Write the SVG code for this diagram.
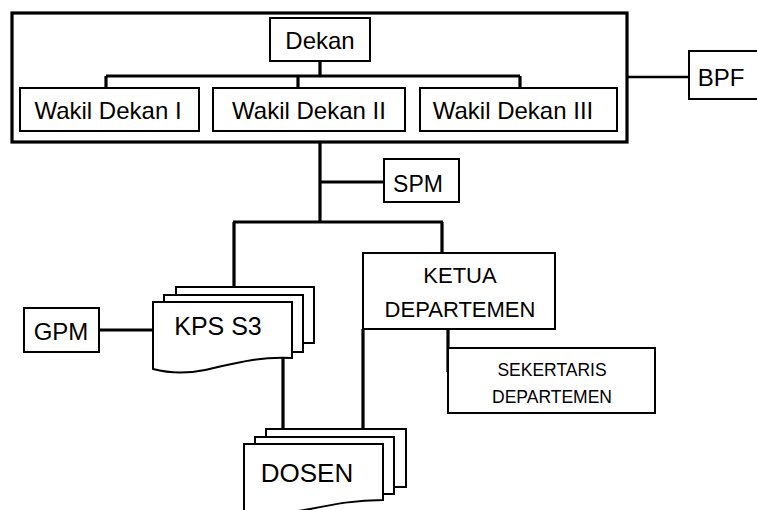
<svg xmlns="http://www.w3.org/2000/svg" width="757" height="510" viewBox="0 0 757 510">
<style>
.box{fill:#fff;stroke:#000;stroke-width:2}
.outer{fill:#fff;stroke:#000;stroke-width:3.2}
.c{stroke:#000;stroke-width:3.2;fill:none}
.ct{stroke:#000;stroke-width:2.5;fill:none}
text{font-family:"Liberation Sans",Arial,sans-serif;fill:#000;text-anchor:middle}
</style>
<rect width="757" height="510" fill="#fff"/>
<g id="fakultas">
<rect class="outer" x="12" y="13" width="615" height="129"/>
</g>
<g id="connectors">
<path class="c" d="M320,61 V76 M106,76 H520 M106,76 V88 M298,76 V88 M520,76 V88"/>
<path class="ct" d="M627,77 H689"/>
<path class="c" d="M320,142 V222 M320,182 H384 M233,222 H443 M234,222 V302 M442,222 V253"/>
<path class="c" d="M363,329 V429 M448,329 V372 M283,358 V434 M99,330 H153"/>
</g>
<g id="dekan">
<rect class="box" x="270" y="18" width="100" height="43"/>
<text x="320" y="49" font-size="24">Dekan</text>
</g>
<g id="wd1">
<rect class="box" x="20" y="88" width="179" height="43"/>
<text x="108" y="119" font-size="24">Wakil Dekan I</text>
</g>
<g id="wd2">
<rect class="box" x="213" y="88" width="192" height="43"/>
<text x="309" y="119" font-size="24">Wakil Dekan II</text>
</g>
<g id="wd3">
<rect class="box" x="420" y="88" width="197" height="43"/>
<text x="513" y="119" font-size="24">Wakil Dekan III</text>
</g>
<g id="bpf">
<rect class="box" x="689" y="51" width="80" height="48"/>
<text x="721" y="86" font-size="24">BPF</text>
</g>
<g id="spm">
<rect class="box" x="384" y="159" width="75" height="43"/>
<text x="418" y="192" font-size="23">SPM</text>
</g>
<g id="ketua">
<rect class="box" x="363" y="253" width="192" height="76"/>
<text x="460" y="283" font-size="22">KETUA</text>
<text x="460" y="317" font-size="22">DEPARTEMEN</text>
</g>
<g id="sekertaris">
<rect class="box" x="448" y="348" width="207" height="65"/>
<text x="552" y="376" font-size="17.5">SEKERTARIS</text>
<text x="552" y="403" font-size="17.5">DEPARTEMEN</text>
</g>
<g id="gpm">
<rect class="box" x="24" y="308" width="75" height="44"/>
<text x="61" y="340" font-size="24">GPM</text>
</g>
<g id="kps">
<rect class="box" x="176" y="287" width="138" height="56"/>
<rect class="box" x="164" y="295" width="139" height="57"/>
<path class="box" d="M153,302 H292 V358 C258,356 232,364 205,370 C185,374 168,373 153,369 Z"/>
<text x="218" y="335" font-size="25">KPS S3</text>
</g>
<g id="dosen">
<rect class="box" x="266" y="429" width="140" height="58"/>
<rect class="box" x="255" y="437" width="139" height="57"/>
<path class="box" d="M244,444 H383 V500 C355,500 335,504 310,509 C285,514 262,514 244,512 Z"/>
<text x="307" y="482" font-size="26">DOSEN</text>
</g>
</svg>
